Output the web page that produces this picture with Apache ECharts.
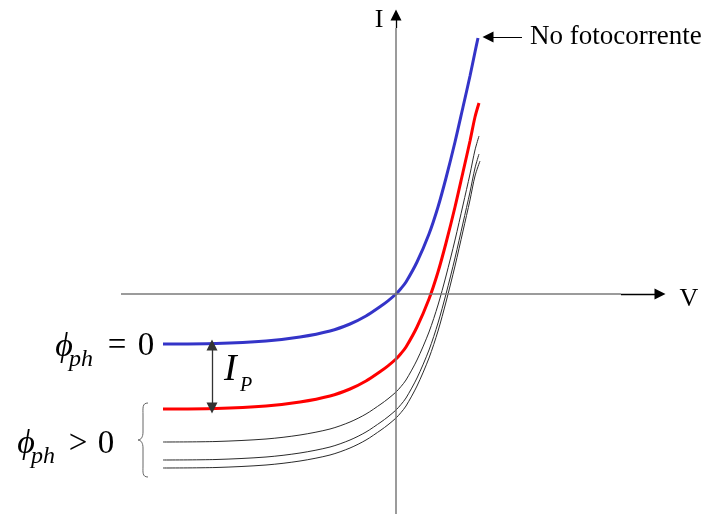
<!DOCTYPE html>
<html>
<head>
<meta charset="utf-8">
<script src="https://cdn.jsdelivr.net/npm/echarts@6/dist/echarts.min.js"></script>
<style>
  html, body { margin: 0; padding: 0; background: #fff; }
  #chart { width: 717px; height: 514px; }
</style>
</head>
<body>
<div id="chart"></div>
<script>
// Diode I–V characteristics: dark curve and curves under increasing illumination.
// Points are [V, I] in arbitrary units (origin at the axes crossing).
const darkCurve = [
  [-233, -50], [-180, -49.5], [-130, -47], [-96, -43], [-66, -37], [-46, -30],
  [-30, -22], [-15, -12], [-8, -6.8], [0, 0], [5, 5.5], [10, 12], [21, 32],
  [33, 60], [42, 87], [50, 116], [59, 152], [67, 187], [74, 218], [79, 242], [82, 256]
];
const photoCurve1 = [
  [-233, -115], [-180, -114.5], [-130, -112], [-96, -108], [-66, -102], [-46, -95],
  [-30, -87], [-15, -77], [-8, -71.8], [0, -65], [5, -59.5], [10, -53], [21, -33],
  [33, -5], [42, 22], [50, 51], [59, 87], [67, 122], [74, 153], [79, 177], [83, 191]
];
const photoCurve2 = [
  [-233, -148], [-180, -147.5], [-130, -145], [-96, -141], [-66, -135], [-46, -128],
  [-30, -120], [-15, -110], [-8, -104.8], [0, -98], [5, -92.5], [10, -86], [21, -66],
  [33, -38], [42, -11], [50, 18], [59, 54], [67, 89], [74, 120], [79, 144], [83, 158]
];
const photoCurve3 = [
  [-233, -166], [-180, -165.5], [-130, -163], [-96, -159], [-66, -153], [-46, -146],
  [-30, -138], [-15, -128], [-8, -122.8], [0, -116], [5, -110.5], [10, -104], [21, -84],
  [33, -56], [42, -29], [50, 0], [59, 36], [67, 71], [74, 102], [79, 126], [83, 140]
];
const photoCurve4 = [
  [-233, -174], [-180, -173.5], [-130, -171], [-96, -167], [-66, -161], [-46, -154],
  [-30, -146], [-15, -136], [-8, -130.8], [0, -124], [5, -118.5], [10, -112], [21, -92],
  [33, -64], [42, -37], [50, -8], [59, 28], [67, 63], [74, 94], [79, 118], [84, 133]
];

// Axis extents (value range of the plotting area) and axis arrow ends
const vRange = [-396, 321];
const iRange = [-220, 294];
const vAxisSpan = [-275, 264];
const iAxisSpan = [-220, 279];

// I_P arrow between the two flat segments
const ipArrowV = -184;
const ipArrowI = [-50, -115];

// Pointer to the dark curve
const noteArrow = [[126, 257], [92, 257]];

const axisLabels = ['V', 'I'];
const noteText = 'No fotocorrente';

const serif = '"Liberation Serif", "DejaVu Serif", serif';

const chart = echarts.init(document.getElementById('chart'), null, { renderer: 'canvas' });

function curve(name, data, color, width) {
  return {
    name, type: 'line', data,
    smooth: 0.3,
    showSymbol: false, symbol: 'none',
    lineStyle: { color, width },
    silent: true, z: 3
  };
}

function txt(x, y, text, font, align) {
  return {
    type: 'text', x, y, silent: true,
    style: { text, font, fill: '#000', textAlign: align || 'center', textVerticalAlign: 'middle' }
  };
}

const braceStyle = { stroke: '#666', lineWidth: 1, fill: null };
function bez(x1, y1, cx1, cy1, cx2, cy2, x2, y2) {
  return { type: 'bezierCurve', silent: true, shape: { x1, y1, cpx1: cx1, cpy1: cy1, cpx2: cx2, cpy2: cy2, x2, y2 }, style: braceStyle };
}
function seg(x1, y1, x2, y2) {
  return { type: 'line', silent: true, shape: { x1, y1, x2, y2 }, style: braceStyle };
}

const option = {
  animation: false,
  backgroundColor: '#ffffff',
  grid: { left: 0, right: 0, top: 0, bottom: 0 },
  xAxis: { type: 'value', min: vRange[0], max: vRange[1], show: false },
  yAxis: { type: 'value', min: iRange[0], max: iRange[1], show: false },
  series: [
    {
      name: 'axes', type: 'line', data: [], silent: true,
      markLine: {
        silent: true, animation: false,
        label: { show: false },
        symbolSize: 11,
        data: [
          // V axis: grey shaft, black tip
          [{ coord: [vAxisSpan[0], 0], symbol: 'none', lineStyle: { color: '#7a7a7a', width: 1.5, type: 'solid' } },
           { coord: [225, 0], symbol: 'none' }],
          [{ coord: [225, 0], symbol: 'none', lineStyle: { color: '#000', width: 1.3, type: 'solid' } },
           { coord: [vAxisSpan[1], 0], symbol: 'triangle' }],
          // I axis
          [{ coord: [0, iAxisSpan[0]], symbol: 'none', lineStyle: { color: '#7a7a7a', width: 1.5, type: 'solid' } },
           { coord: [0, 266], symbol: 'none' }],
          [{ coord: [0, 266], symbol: 'none', lineStyle: { color: '#000', width: 1.3, type: 'solid' } },
           { coord: [0, iAxisSpan[1]], symbol: 'triangle' }],
          // I_P double arrow
          [{ coord: [ipArrowV, ipArrowI[0] - 1], symbol: 'triangle', lineStyle: { color: '#333', width: 1.3, type: 'solid' } },
           { coord: [ipArrowV, ipArrowI[1] + 1], symbol: 'triangle' }],
          // pointer to the dark curve
          [{ coord: noteArrow[0], symbol: 'none', lineStyle: { color: '#000', width: 1.2, type: 'solid' } },
           { coord: noteArrow[1], symbol: 'triangle' }]
        ]
      }
    },
    curve('photo4', photoCurve4, '#2b2b2b', 1),
    curve('photo3', photoCurve3, '#2b2b2b', 1),
    curve('photo2', photoCurve2, '#2b2b2b', 1),
    curve('photo1', photoCurve1, '#ff0000', 3),
    curve('dark', darkCurve, '#3434c8', 3)
  ],
  graphic: [
    txt(689, 299, axisLabels[0], '26px ' + serif),
    txt(379, 20, axisLabels[1], '26px ' + serif),
    txt(530, 37, noteText, '27px ' + serif, 'left'),

    // ϕ_ph = 0
    txt(64, 347, 'ϕ', 'italic 34px ' + serif),
    txt(69, 360, 'ph', 'italic 24px ' + serif, 'left'),
    txt(117, 346, '=', '33px ' + serif),
    txt(146, 346, '0', '33px ' + serif),

    // ϕ_ph > 0
    txt(26, 444, 'ϕ', 'italic 34px ' + serif),
    txt(31, 457, 'ph', 'italic 24px ' + serif, 'left'),
    txt(78, 444, '>', '33px ' + serif),
    txt(106, 444, '0', '33px ' + serif),

    // I_P
    txt(224, 370, 'I', 'italic 38px ' + serif, 'left'),
    txt(240, 386, 'P', 'italic 20px ' + serif, 'left'),

    // curly brace grouping the illuminated curves
    bez(148, 403, 142, 403, 143, 408, 143, 415),
    seg(143, 415, 143, 432),
    bez(143, 432, 143, 437, 141, 440, 138, 440),
    bez(138, 440, 141, 440, 143, 443, 143, 448),
    seg(143, 448, 143, 466),
    bez(143, 466, 143, 472, 142, 477, 148, 477)
  ]
};

chart.setOption(option);
</script>
</body>
</html>
